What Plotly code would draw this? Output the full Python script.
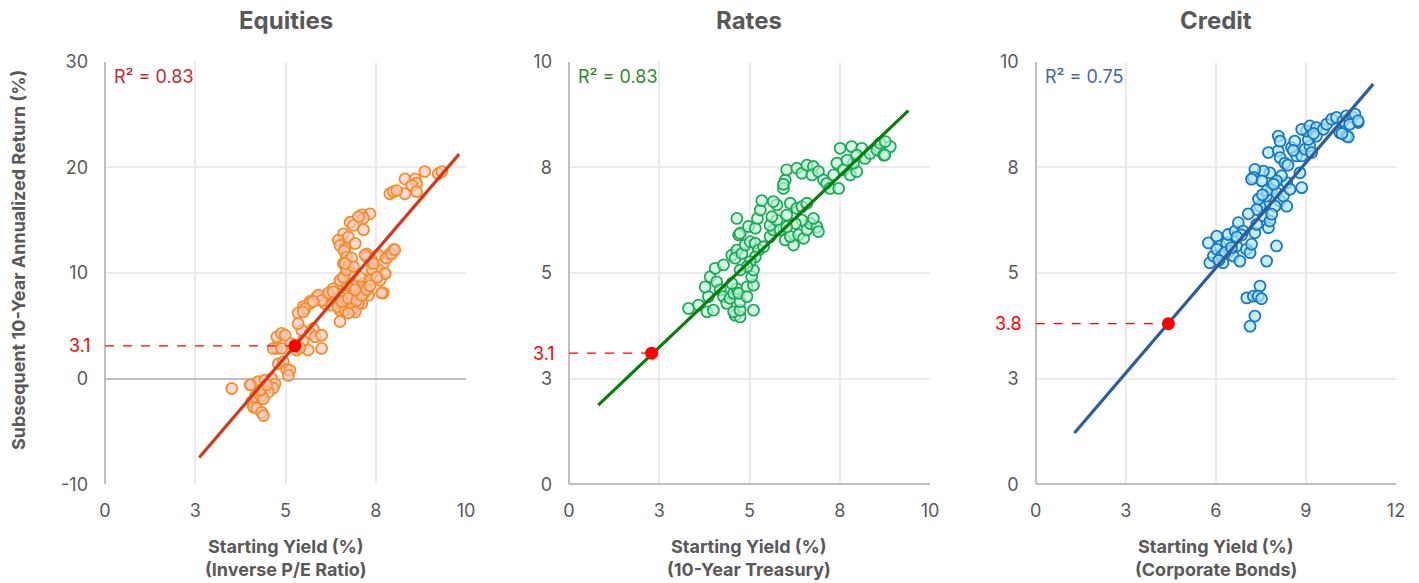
import plotly.graph_objects as go

# ---------------- data ----------------
panel_titles = ["Equities", "Rates", "Credit"]
x_titles = ["Starting Yield (%)", "Starting Yield (%)", "Starting Yield (%)"]
x_subtitles = ["(Inverse P/E Ratio)", "(10-Year Treasury)", "(Corporate Bonds)"]
y_title = "Subsequent 10-Year Annualized Return (%)"
r2_labels = ["R² = 0.83", "R² = 0.83", "R² = 0.75"]

eq_x = [8.86, 9.23, 9.33, 8.31, 8.59, 8.63, 8.50, 8.63, 8.31, 7.89, 7.99, 8.08,
        7.34, 7.11, 7.16, 7.02, 6.79, 6.88, 7.16, 6.60, 6.74, 6.46, 6.51, 6.93, 6.65, 6.62,
        7.99, 7.89, 7.76, 7.57, 7.25, 7.39, 7.71, 7.57, 7.76, 7.39, 7.52, 7.71,
        6.69, 6.83, 6.60, 6.74, 6.69, 6.88, 6.65, 6.51, 6.32, 6.69, 6.97, 7.16, 7.25, 7.06,
        7.30, 6.97, 6.79, 6.51, 6.23, 6.05, 5.86, 5.68, 5.49, 7.11, 7.34, 7.06,
        6.51, 6.69, 6.88, 7.02, 6.79, 6.60, 6.42, 6.23, 7.06, 7.25, 7.16, 6.88, 6.69, 6.51,
        6.79, 6.60, 6.69, 6.88, 6.65, 7.25, 7.20, 7.62, 7.76, 7.39, 7.80, 7.94, 8.03, 7.53, 7.43,
        6.09, 6.28, 6.46, 6.65, 6.83, 6.93, 6.74, 6.56, 6.74, 6.97, 7.11, 7.25, 6.93, 7.34, 7.66,
        5.91, 6.00, 6.19, 6.32, 5.68, 5.77, 5.54, 5.35, 5.49, 6.51, 5.45, 5.35, 5.77,
        4.76, 4.66, 4.89, 4.76, 4.89, 4.99, 5.31, 5.63, 5.49, 5.68, 5.82, 6.00, 6.00, 5.40, 5.15,
        4.80, 4.94, 5.03, 5.12, 5.08,
        3.51, 4.06, 4.25, 4.43, 4.62, 4.71, 4.66, 4.52, 4.34, 4.16, 4.06, 4.39, 4.11, 4.20,
        4.34, 4.39, 4.30, 4.48, 4.02]
eq_y = [19.6, 19.4, 19.6, 18.9, 18.9, 18.5, 18.3, 17.7, 17.5, 17.5, 17.7, 17.8,
        15.6, 15.5, 15.2, 15.3, 14.8, 14.5, 14.1, 13.7, 13.4, 13.1, 12.6, 12.8, 12.3, 12.1,
        12.2, 11.8, 11.5, 11.7, 11.8, 11.2, 10.9, 10.3, 9.95, 9.95, 9.5, 8.1,
        11.5, 11.4, 10.9, 10.6, 10.1, 9.95, 9.5, 9.0, 8.5, 8.8, 8.7, 9.0, 8.5, 8.2,
        7.9, 7.7, 7.4, 7.7, 7.9, 7.4, 7.7, 7.3, 6.8, 7.1, 9.3, 9.6,
        6.47, 6.8, 6.6, 7.1, 7.4, 7.3, 7.1, 7.6, 8.7, 8.5, 8.0, 8.8, 9.0, 9.3,
        9.95, 9.6, 10.3, 10.6, 10.9, 11.5, 11.7, 9.3, 9.95, 10.4, 11.4, 11.8, 12.2, 9.6, 10.9,
        7.1, 6.95, 6.8, 6.5, 6.6, 6.3, 6.2, 7.3, 7.6, 7.4, 7.9, 8.4, 8.4, 8.8, 8.1,
        7.9, 7.4, 8.1, 8.2, 7.1, 7.3, 6.6, 6.2, 6.3, 5.4, 4.58, 5.2, 4.74,
        2.85, 2.85, 2.85, 3.95, 4.27, 4.1, 2.7, 2.7, 3.6, 4.27, 3.95, 4.1, 2.85, 2.9, 3.3,
        1.4, 1.6, 0.86, 0.8, 0.3,
        -0.94, -0.6, -0.3, -0.15, 0.0, -0.5, -0.9, -1.3, -1.6, -1.7, -2.2, -1.9, -2.7, -2.8,
        -3.2, -3.5, -1.1, -0.6, -0.6]

rt_x = [3.31, 3.59, 3.82, 4.00, 3.86, 3.77, 3.91, 4.05, 4.28, 4.09, 4.19, 4.28, 4.37, 4.46,
        4.56, 4.65, 4.51, 4.60, 4.74, 4.56, 4.74, 4.74, 4.70, 4.93, 5.11, 5.06, 5.11, 5.11, 4.93,
        4.51, 4.65, 4.60, 4.79, 4.88, 5.02, 5.16, 5.25, 5.39, 5.16, 5.02, 4.93, 4.74,
        4.70, 4.74, 4.97, 5.16, 4.65, 5.22, 5.30, 5.34,
        5.57, 5.66, 5.57, 5.76, 5.85, 5.99, 6.22, 6.13, 6.36, 6.50, 6.59, 6.68, 6.87, 6.91,
        6.77, 6.45, 6.27, 6.03, 5.62, 5.76, 5.66, 6.13, 6.31, 6.45, 6.59, 6.03,
        5.99, 5.94, 5.94, 6.03, 6.31, 6.45, 6.59, 6.77, 6.73, 6.91, 7.05, 7.14, 7.23, 7.33,
        7.42, 7.47, 7.60, 7.79, 7.97, 7.88, 7.51, 7.83, 8.11, 7.97, 8.20, 8.34, 8.53, 8.71,
        8.62, 8.90, 8.76, 7.70, 8.75]
rt_y = [4.16, 4.24, 4.08, 4.12, 4.44, 4.67, 4.91, 5.11, 5.19, 4.79, 4.60, 4.44, 4.28, 4.40,
        4.52, 4.63, 4.75, 4.00, 3.96, 4.08, 4.12, 4.32, 4.52, 4.67, 4.71, 4.91, 5.07, 4.12, 4.44,
        5.42, 5.54, 5.35, 5.46, 5.66, 5.74, 5.70, 5.54, 5.62, 5.38, 5.27, 5.15, 5.07,
        5.90, 5.94, 6.10, 6.06, 6.29, 6.29, 6.49, 6.71,
        5.86, 6.02, 6.13, 6.25, 6.02, 5.78, 5.66, 5.86, 5.90, 5.82, 6.02, 6.17, 6.09, 5.98,
        6.29, 6.25, 6.17, 6.09, 6.33, 6.61, 6.69, 6.65, 6.53, 6.57, 6.65, 6.37,
        7.20, 7.00, 7.10, 7.44, 7.48, 7.36, 7.55, 7.52, 7.32, 7.40, 7.20, 7.12, 7.00, 7.32,
        7.60, 7.00, 7.44, 7.32, 7.40, 7.60, 7.95, 7.99, 7.95, 7.79, 7.71, 7.83, 7.91, 7.79,
        8.07, 7.99, 8.11, 7.67, 7.79]

cr_x = [7.14, 7.30, 7.03, 7.25, 7.47, 7.41, 7.52, 7.69, 8.02,
        5.75, 5.80, 5.92, 6.03, 6.14, 6.03, 6.19, 6.24, 6.36, 6.41, 6.47, 6.58, 6.64, 6.75,
        6.80, 6.69, 6.91, 7.02, 7.14, 7.19, 7.30, 7.36, 7.58, 7.75, 7.80, 7.64, 7.47, 7.36,
        7.69, 7.86, 8.02, 8.14, 7.97, 7.86, 8.25, 8.36, 8.36, 8.19, 8.47, 8.86, 8.02, 7.80,
        7.58, 7.30, 7.25, 7.53, 7.75, 8.08, 8.14, 8.08, 8.14, 8.52, 8.63, 8.69, 8.86, 8.80,
        8.97, 9.13, 9.19, 9.08, 9.02, 8.86, 9.13, 9.35, 9.35, 9.58, 9.69, 9.86, 10.02, 10.24,
        10.35, 10.57, 10.74, 10.46, 10.13, 10.35, 10.63, 7.19, 10.74, 10.41, 10.20,
        6.30, 6.52, 6.86, 7.08, 7.42, 7.70, 7.92, 8.30, 8.58, 6.10, 6.70, 7.55, 8.40, 9.25]
cr_y = [3.74, 3.98, 4.41, 4.45, 4.69, 4.45, 4.39, 5.28, 5.64,
        5.71, 5.24, 5.40, 5.87, 5.64, 5.56, 5.40, 5.24, 5.71, 5.91, 5.52, 5.40, 5.99, 6.19,
        5.28, 5.64, 5.99, 5.56, 5.48, 5.68, 5.95, 6.15, 6.35, 6.07, 6.23, 6.66, 6.58, 6.50,
        6.82, 6.98, 6.90, 6.70, 6.58, 6.39, 6.82, 6.58, 7.14, 7.30, 6.98, 7.02, 7.18, 7.37,
        7.41, 7.45, 7.26, 7.18, 7.85, 7.89, 7.73, 8.24, 8.12, 7.97, 8.12, 7.77, 7.77, 7.37,
        7.93, 8.01, 7.85, 8.16, 8.36, 8.40, 8.48, 8.44, 8.24, 8.40, 8.52, 8.64, 8.68, 8.60,
        8.72, 8.68, 8.56, 8.52, 8.32, 8.24, 8.76, 7.22, 8.60, 8.22, 8.30,
        5.48, 5.60, 5.90, 6.40, 6.75, 6.95, 7.10, 7.60, 7.90, 5.30, 5.85, 6.85, 7.55, 8.30]

# fitted trend lines (endpoints) and the current-yield estimate on each line
trend_x = [[2.61, 9.81], [0.81, 9.40], [1.29, 11.24]]
trend_y = [[-7.47, 21.25], [1.87, 8.84], [1.21, 9.47]]
current_x = [5.26, 2.29, 4.42]
current_y = [3.1, 3.1, 3.8]
current_labels = ["3.1", "3.1", "3.8"]

x_ranges = [[0, 10], [0, 10], [0, 12]]
y_ranges = [[-10, 30], [0, 10], [0, 10]]
x_tickvals = [[0, 2.5, 5, 7.5, 10], [0, 2.5, 5, 7.5, 10], [0, 3, 6, 9, 12]]
x_ticktext = [["0", "3", "5", "8", "10"], ["0", "3", "5", "8", "10"], ["0", "3", "6", "9", "12"]]
y_tickvals = [[-10, 0, 10, 20, 30], [0, 2.5, 5, 7.5, 10], [0, 2.5, 5, 7.5, 10]]
y_ticktext = [["-10", "0", "10", "20", "30"], ["0", "3", "5", "8", "10"], ["0", "3", "5", "8", "10"]]

# ---------------- styling ----------------
W, H = 1419, 583
FONT = "Inter"
GREY = "#595959"
marker_line = ["#F28E2B", "#1DAA57", "#1677C2"]
marker_fill = ["rgba(248,200,190,0.65)", "rgba(190,245,215,0.65)", "rgba(175,228,248,0.70)"]
trend_color = ["#D1391A", "#0B7D0B", "#2E5C97"]
r2_color = ["#C9282D", "#2E8B2E", "#3F6AA0"]
x_domains = [[105 / W, 466 / W], [569 / W, 930 / W], [1035.7 / W, 1396 / W]]
y_domain = [1 - 484.2 / H, 1 - 61.7 / H]

series = [(eq_x, eq_y), (rt_x, rt_y), (cr_x, cr_y)]

fig = go.Figure()
annotations = []

for i in range(3):
    xa = "x" if i == 0 else f"x{i + 1}"
    ya = "y" if i == 0 else f"y{i + 1}"
    sx, sy = series[i]
    fig.add_trace(go.Scatter(
        x=sx, y=sy, mode="markers", xaxis=xa, yaxis=ya, showlegend=False,
        marker=dict(size=11, color=marker_fill[i], line=dict(color=marker_line[i], width=1.8)),
    ))
    fig.add_trace(go.Scatter(
        x=trend_x[i], y=trend_y[i], mode="lines", xaxis=xa, yaxis=ya, showlegend=False,
        line=dict(color=trend_color[i], width=3.2),
    ))
    # dashed guide from the y axis to the current estimate
    fig.add_trace(go.Scatter(
        x=[x_ranges[i][0], current_x[i]], y=[current_y[i], current_y[i]], mode="lines",
        xaxis=xa, yaxis=ya, showlegend=False,
        line=dict(color="#FF0000", width=1.2, dash="dash"),
    ))
    fig.add_trace(go.Scatter(
        x=[current_x[i]], y=[current_y[i]], mode="markers", xaxis=xa, yaxis=ya, showlegend=False,
        marker=dict(size=13, color="#FF0000"),
    ))

    axis_key = "" if i == 0 else str(i + 1)
    fig.update_layout(**{
        f"xaxis{axis_key}": dict(
            domain=x_domains[i], range=x_ranges[i], anchor=ya, automargin=False,
            tickvals=x_tickvals[i], ticktext=x_ticktext[i],
            showgrid=True, gridcolor="#EBEBEB", gridwidth=1.5,
            zeroline=True, zerolinecolor="#BFBFBF", zerolinewidth=2,
            showline=False, ticks="", ticklabelstandoff=14,
            tickfont=dict(family=FONT, size=18, color=GREY), fixedrange=True,
        ),
        f"yaxis{axis_key}": dict(
            domain=y_domain, range=y_ranges[i], anchor=xa, automargin=False,
            tickvals=y_tickvals[i], ticktext=y_ticktext[i],
            showgrid=True, gridcolor="#EBEBEB", gridwidth=1.5,
            zeroline=True, zerolinecolor="#BFBFBF", zerolinewidth=2,
            showline=False, ticks="", ticklabelstandoff=16,
            tickfont=dict(family=FONT, size=18, color=GREY), fixedrange=True,
        ),
    })

    cx = (x_domains[i][0] + x_domains[i][1]) / 2
    annotations.append(dict(
        text=f"<b>{panel_titles[i]}</b>", xref="paper", yref="paper", x=cx, y=1 - 20 / H,
        xanchor="center", yanchor="middle", showarrow=False,
        font=dict(family=FONT, size=24, color=GREY),
    ))
    annotations.append(dict(
        text=f"<b>{x_titles[i]}</b>", xref="paper", yref="paper", x=cx, y=1 - 546 / H,
        xanchor="center", yanchor="middle", showarrow=False,
        font=dict(family=FONT, size=18, color=GREY),
    ))
    annotations.append(dict(
        text=f"<b>{x_subtitles[i]}</b>", xref="paper", yref="paper", x=cx, y=1 / H,
        xanchor="center", yanchor="bottom", showarrow=False,
        font=dict(family=FONT, size=18, color=GREY),
    ))
    annotations.append(dict(
        text=r2_labels[i], xref=f"{xa} domain", yref=f"{ya} domain", x=7 / 361, y=1 - 15 / 422.5,
        xanchor="left", yanchor="middle", showarrow=False,
        font=dict(family=FONT, size=18, color=r2_color[i]),
    ))
    annotations.append(dict(
        text=current_labels[i], xref=f"{xa} domain", yref=ya, x=-12 / 361, y=current_y[i],
        xanchor="right", yanchor="middle", showarrow=False,
        font=dict(family=FONT, size=18, color="#FF0000"),
    ))

annotations.append(dict(
    text=f"<b>{y_title}</b>", xref="paper", yref="paper", x=18 / W, y=1 - 260 / H,
    xanchor="center", yanchor="middle", textangle=-90, showarrow=False,
    font=dict(family=FONT, size=18, color=GREY),
))

fig.update_layout(
    width=W, height=H,
    margin=dict(l=0, r=0, t=0, b=0),
    paper_bgcolor="white", plot_bgcolor="white",
    annotations=annotations,
    showlegend=False,
)

fig.write_html("out.html")
